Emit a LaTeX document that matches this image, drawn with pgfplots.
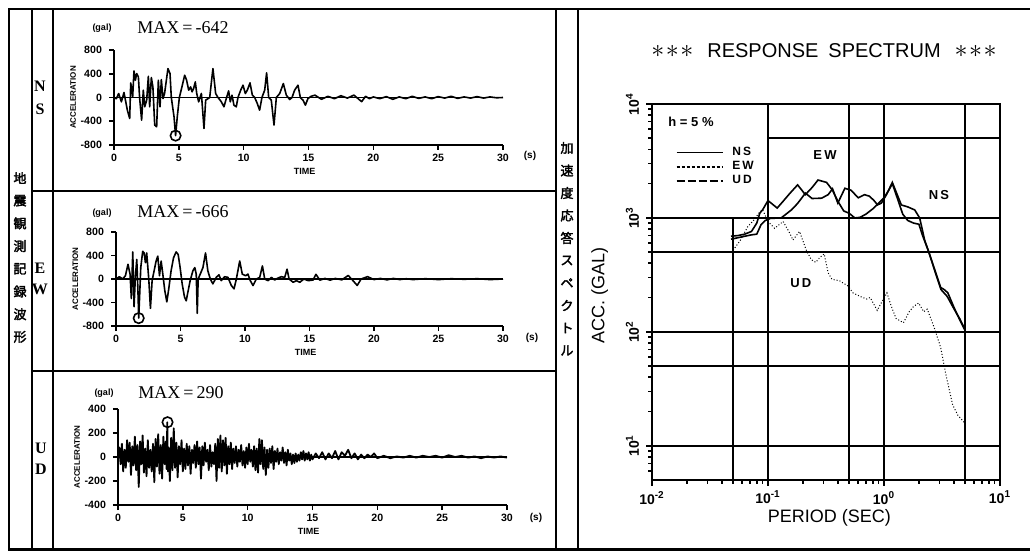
\documentclass[border=0pt]{standalone}
\usepackage{pgfplots}
\pgfplotsset{compat=1.18}
\usepackage{fontspec}
\setmainfont{Liberation Sans}
\newfontfamily\seriff{Liberation Serif}
\newfontfamily\cjk[AutoFakeBold=2.5]{Noto Sans CJK JP}

\pgfplotsset{
  tplot/.style={
    scale only axis, anchor=south west, clip=false,
    axis x line*=bottom, axis y line*=left,
    axis line style={line width=1pt,-},
    tick pos=left,
    xmin=0, xmax=30, xtick={0,5,...,30},
    tick align=outside, major tick length=2.5pt,
    every tick/.style={black, line width=0.8pt},
    tick label style={font=\fontsize{5.3}{6}\selectfont\bfseries},
    xticklabel style={yshift=1.5pt},
    /pgf/number format/assume math mode=true,
    xlabel={TIME},
    xlabel style={font=\fontsize{4.5}{5}\selectfont\bfseries, at={(axis description cs:0.49,0)}, anchor=center, yshift=-13pt},
    ylabel={ACCELERATION},
    ylabel style={font=\fontsize{4}{5}\selectfont\bfseries, at={(axis description cs:-0.105,0.5)}, anchor=center},
  },
  trace/.style={black, no marks, line width=0.8pt, line join=round},
}

\begin{document}
\begin{tikzpicture}[x=0.5pt, y=-0.5pt]
\path[use as bounding box] (0,0) rectangle (1030,551);

% frame
\draw[line width=1.1pt] (8,9) -- (1030,9);
\draw[line width=1.1pt] (8,549.5) -- (1030,549.5);
\draw[line width=1pt] (9,9) -- (9,549.5);
\draw[line width=0.8pt] (32,9) -- (32,549.5);
\draw[line width=0.8pt] (53,9) -- (53,549.5);
\draw[line width=0.8pt] (32,191) -- (556,191);
\draw[line width=0.8pt] (32,371) -- (556,371);
\draw[line width=0.8pt] (556,9) -- (556,549.5);
\draw[line width=0.8pt] (578,9) -- (578,549.5);

% vertical Japanese columns
\foreach \c [count=\i] in {地,震,観,測,記,録,波,形}
  \node[font=\cjk\bfseries\fontsize{6.5}{7}\selectfont, inner sep=0pt] at (20,{178+22.7*(\i-1)}) {\c};
\foreach \c [count=\i] in {加,速,度,応,答,ス,ペ,ク,ト,ル}
  \node[font=\cjk\bfseries\fontsize{6.5}{7}\selectfont, inner sep=0pt] at (567,{148+22.5*(\i-1)}) {\c};

% component letters
\begin{scope}[every node/.style={font=\seriff\bfseries\fontsize{8}{9}\selectfont, inner sep=0pt}]
\node at (40,86) {N}; \node at (40,109) {S};
\node at (40,268) {E}; \node at (40,289) {W};
\node at (41,448) {U}; \node at (41,469) {D};
\end{scope}

% headers
\begin{scope}[every node/.style={inner sep=0pt}]
\node[font=\fontsize{4.5}{5}\selectfont\bfseries] at (102,28) {(gal)};
\node[font=\seriff\fontsize{9}{9}\selectfont, anchor=west] at (137,28) {MAX\,=\,-642};
\node[font=\fontsize{4.5}{5}\selectfont\bfseries] at (102,213) {(gal)};
\node[font=\seriff\fontsize{9}{9}\selectfont, anchor=west] at (137,212) {MAX\,=\,-666};
\node[font=\fontsize{4.5}{5}\selectfont\bfseries] at (104,393) {(gal)};
\node[font=\seriff\fontsize{9}{9}\selectfont, anchor=west] at (138,393) {MAX\,=\,290};
\node[font=\fontsize{5}{6}\selectfont\bfseries] at (530,156) {(s)};
\node[font=\fontsize{5}{6}\selectfont\bfseries] at (532,338) {(s)};
\node[font=\fontsize{5}{6}\selectfont\bfseries] at (536,518) {(s)};
\end{scope}

\coordinate (ns) at (114,145);
\coordinate (ew) at (116,326);
\coordinate (ud) at (118,505);
\coordinate (sp) at (652,480);

% ---------- NS ----------
\begin{axis}[tplot, at={(ns)}, width=194.5pt, height=47.5pt,
  ymin=-800, ymax=800, ytick={-800,-400,0,400,800}]
\addplot[trace, line width=0.6pt] coordinates {(0,0) (30,0)};
\addplot[trace] coordinates {(0,0) (0.18,-20) (0.36,67) (0.57,-73) (0.77,84) (1.03,-213) (1.21,-353) (1.29,246) (1.44,11) (1.54,448) (1.65,291) (1.75,403) (1.88,347) (1.98,-17) (2.13,-381) (2.26,123) (2.37,-157) (2.52,-45) (2.65,358) (2.75,-157) (2.88,336) (3.0,179) (3.14,-465) (3.29,-493) (3.42,291) (3.55,-157) (3.65,302) (3.78,-17) (3.9,67) (4.16,487) (4.32,403) (4.42,0) (4.63,-325) (4.75,-642) (4.88,-325) (5.04,0) (5.24,179) (5.45,375) (5.6,291) (5.76,123) (5.91,179) (6.02,95) (6.14,151) (6.27,263) (6.38,67) (6.53,-73) (6.74,67) (6.94,-521) (7.07,-45) (7.38,0) (7.63,487) (7.84,67) (8.02,0) (8.28,-73) (8.48,-157) (8.66,-17) (8.84,112) (8.97,-73) (9.1,39) (9.25,-129) (9.43,-157) (9.56,0) (9.77,123) (9.95,207) (10.13,67) (10.28,123) (10.49,246) (10.67,39) (10.85,0) (11.05,-101) (11.23,-213) (11.41,0) (11.62,123) (11.77,414) (11.93,0) (12.13,-45) (12.34,-465) (12.52,0) (12.78,67) (13.06,235) (13.29,39) (13.55,-34) (13.73,0) (13.93,123) (14.19,207) (14.37,0) (14.58,-45) (14.76,-129) (14.96,-17) (15.22,22) (15.5,39) (16,-30) (16.5,20) (17,-20) (17.5,30) (18,-10) (18.5,40) (19.1,-70) (19.4,20) (19.7,-20) (20,10) (20.5,-20) (21,15) (21.5,-30) (22,10) (22.5,-20) (23,20) (23.5,-15) (24,10) (24.5,-20) (25,15) (25.5,-10) (26,20) (26.5,-15) (27,10) (27.5,-10) (28,15) (28.5,-10) (29,10) (29.5,-5) (30,0)};
\addplot[only marks, mark=o, mark size=2.6pt, line width=0.8pt, black] coordinates {(4.75,-642)};
\end{axis}

% ---------- EW ----------
\begin{axis}[tplot, at={(ew)}, width=193.5pt, height=47pt,
  ymin=-800, ymax=800, ytick={-800,-400,0,400,800}]
\addplot[trace, line width=0.6pt] coordinates {(0,0) (30,0)};
\addplot[trace] coordinates {(0,0) (0.26,39) (0.52,0) (0.73,56) (0.93,250) (1.09,83) (1.19,-333) (1.3,461) (1.4,-472) (1.5,28) (1.61,333) (1.7,-194) (1.76,-666) (1.83,-300) (1.92,195) (2.07,472) (2.18,444) (2.28,278) (2.38,444) (2.54,0) (2.67,-500) (2.8,-28) (2.98,167) (3.11,306) (3.24,389) (3.37,56) (3.5,306) (3.63,83) (3.78,-194) (3.94,-389) (4.09,-167) (4.27,139) (4.46,361) (4.66,461) (4.82,417) (4.97,195) (5.13,-83) (5.31,-306) (5.44,-372) (5.6,-194) (5.75,-28) (5.96,139) (6.11,195) (6.22,83) (6.3,-583) (6.37,0) (6.53,83) (6.74,195) (6.94,444) (7.12,139) (7.31,0) (7.51,-83) (7.77,28) (7.98,72) (8.16,-28) (8.42,39) (8.68,28) (8.94,-111) (9.15,-167) (9.33,0) (9.59,306) (9.79,83) (10.05,56) (10.23,83) (10.41,-28) (10.62,-111) (10.88,0) (11.14,28) (11.35,222) (11.53,0) (11.79,-28) (12.05,28) (12.3,-17) (12.56,17) (12.82,39) (13.08,28) (13.26,167) (13.42,0) (13.73,-56) (13.99,-28) (14.25,-56) (14.56,0) (14.9,-28) (15.28,-17) (15.5,80) (15.8,-20) (16.2,10) (16.6,-20) (17,10) (17.5,-15) (18,60) (18.3,-10) (18.7,-110) (19,0) (19.5,40) (20,-10) (20.5,10) (21,-15) (21.5,10) (22,-10) (22.5,5) (23,-10) (24,5) (25,-10) (26,5) (27,-5) (28,5) (29,-10) (30,0)};
\addplot[only marks, mark=o, mark size=2.6pt, line width=0.8pt, black] coordinates {(1.76,-666)};
\end{axis}

% ---------- UD ----------
\begin{axis}[tplot, at={(ud)}, width=194.5pt, height=48pt,
  ymin=-400, ymax=400, ytick={-400,-200,0,200,400}]
\addplot[trace, line width=0.6pt] coordinates {(0,0) (30,0)};
\addplot[trace, line width=0.9pt] coordinates {(0,0) (0.1,80) (0.2,-60) (0.3,110) (0.4,-120) (0.5,60) (0.6,-90) (0.7,140) (0.8,-40) (0.9,120) (1.0,-150) (1.1,90) (1.2,-70) (1.3,170) (1.4,-110) (1.5,100) (1.6,-250) (1.7,130) (1.8,-60) (1.9,180) (2.0,-130) (2.1,70) (2.2,-160) (2.3,140) (2.4,-90) (2.5,60) (2.6,-120) (2.7,110) (2.8,-210) (2.9,150) (3.0,-80) (3.1,190) (3.2,-140) (3.3,100) (3.4,-180) (3.5,170) (3.6,-60) (3.7,130) (3.75,-100) (3.8,290) (3.85,-120) (3.9,80) (4.0,-200) (4.1,160) (4.2,-110) (4.3,240) (4.4,-90) (4.5,120) (4.6,-170) (4.7,90) (4.8,-60) (4.9,140) (5.0,-120) (5.1,70) (5.2,-100) (5.3,110) (5.4,-70) (5.5,90) (5.6,-140) (5.7,60) (5.8,-50) (5.9,100) (6.0,-90) (6.1,130) (6.2,-60) (6.3,80) (6.4,-180) (6.5,90) (6.6,-70) (6.7,120) (6.8,-40) (6.9,60) (7.0,-110) (7.1,100) (7.2,-80) (7.3,40) (7.4,-60) (7.5,110) (7.6,-200) (7.7,150) (7.8,-90) (7.9,180) (8.0,-120) (8.1,140) (8.2,-70) (8.3,160) (8.4,-140) (8.5,90) (8.6,-60) (8.7,120) (8.8,-100) (8.9,70) (9.0,-50) (9.1,90) (9.2,-80) (9.3,60) (9.4,-40) (9.5,100) (9.6,-70) (9.7,50) (9.8,-90) (9.9,80) (10.0,-60) (10.1,110) (10.2,-40) (10.3,60) (10.4,-80) (10.5,90) (10.6,-110) (10.7,70) (10.8,-130) (10.9,150) (11.0,-60) (11.1,140) (11.2,-100) (11.3,80) (11.4,-150) (11.5,60) (11.6,-90) (11.7,70) (11.8,-50) (11.9,90) (12.0,-100) (12.1,50) (12.2,-40) (12.3,70) (12.4,-60) (12.5,40) (12.6,-30) (12.7,80) (12.8,-50) (12.9,40) (13.0,-70) (13.1,60) (13.2,-30) (13.3,30) (13.4,-60) (13.5,20) (13.6,-50) (13.7,30) (13.8,-40) (13.9,20) (14.0,-30) (14.1,40) (14.2,-20) (14.3,50) (14.4,-30) (14.5,30) (14.6,-20) (14.7,40) (14.8,-30) (14.9,20) (15.0,-20) (15.25,30) (15.5,-10) (15.75,40) (16,-20) (16.25,30) (16.5,-10) (16.75,50) (17,-20) (17.25,40) (17.5,10) (17.75,60) (18,-10) (18.25,30) (18.5,-20) (18.75,20) (19,-10) (19.25,20) (19.5,0) (19.75,30) (20,-10) (20.5,10) (21,-10) (21.5,5) (22,-5) (22.5,10) (23,-5) (23.5,10) (24,0) (24.5,10) (25,-5) (25.5,15) (26,0) (26.5,10) (27,-5) (27.5,5) (28,-10) (28.5,5) (29,-5) (29.5,5) (30,-5)};
\addplot[only marks, mark=o, mark size=2.6pt, line width=0.8pt, black] coordinates {(3.82,290)};
\end{axis}

% ---------- Response spectrum ----------
\node[font=\fontsize{10}{12}\selectfont, inner sep=0pt] at (824,51) {\scalebox{1.3}{$\ast\!\ast\!\ast$}\hspace{7pt}RESPONSE\hspace{5pt}SPECTRUM\hspace{7pt}\scalebox{1.3}{$\ast\!\ast\!\ast$}};

\begin{axis}[at={(sp)}, anchor=south west, scale only axis, width=174pt, height=188pt,
  xmode=log, ymode=log, xmin=0.01, xmax=10, ymin=5, ymax=10000,
  axis line style={line width=1pt},
  tick pos=left, tick align=outside,
  xtick={0.01,0.1,1,10},
  xticklabels={10\textsuperscript{-2},10\textsuperscript{-1},10\textsuperscript{0},10\textsuperscript{1}},
  ytick={10,100,1000,10000},
  yticklabels={10\textsuperscript{1},10\textsuperscript{2},10\textsuperscript{3},10\textsuperscript{4}},
  minor xtick={0.02,0.03,0.04,0.05,0.06,0.07,0.08,0.09,0.2,0.3,0.4,0.5,0.6,0.7,0.8,0.9,2,3,4,5,6,7,8,9},
  minor ytick={6,7,8,9,20,30,40,50,60,70,80,90,200,300,400,500,600,700,800,900,2000,3000,4000,5000,6000,7000,8000,9000},
  major tick length=3pt, minor tick length=2pt,
  every tick/.style={black, line width=0.8pt},
  tick label style={font=\fontsize{7}{8}\selectfont\bfseries},
  xticklabel style={yshift=1pt},
  yticklabel style={rotate=90, anchor=south},
  xlabel={PERIOD (SEC)}, ylabel={ACC. (GAL)},
  xlabel style={font=\fontsize{9}{10}\selectfont, at={(axis description cs:0.51,-0.101)}, anchor=center},
  ylabel style={font=\fontsize{9}{10}\selectfont, at={(axis description cs:-0.15,0.49)}, anchor=center},
  clip=false,
  legend style={at={(0.05,0.9)}, anchor=north west, draw=none, fill=none,
    font=\fontsize{6}{6.5}\selectfont\bfseries, row sep=0.4pt, column sep=4pt, nodes={inner sep=0.5pt}},
  legend cell align=left,
  legend image code/.code={\draw[#1] (0pt,0pt) -- (23pt,0pt);},
]
\addlegendimage{black, line width=0.8pt}
\addlegendentry{N\,S}
\addlegendimage{black, line width=0.8pt, dash pattern=on 1.5pt off 1pt}
\addlegendentry{E\,W}
\addlegendimage{black, line width=0.8pt, dash pattern=on 4pt off 1.5pt}
\addlegendentry{U\,D}

% grid lines
\begin{scope}[line width=1pt]
\draw (0.1,5000) -- (10,5000);
\draw (0.01,1000) -- (10,1000);
\draw (0.01,500) -- (10,500);
\draw (0.01,100) -- (10,100);
\draw (0.01,50) -- (10,50);
\draw (0.01,10) -- (10,10);
\draw (0.05,5) -- (0.05,1000);
\draw (0.1,5) -- (0.1,10000);
\draw (0.5,5) -- (0.5,10000);
\draw (1,5) -- (1,10000);
\draw (5,5) -- (5,10000);
\end{scope}

% EW
\addplot[black, no marks, line width=0.8pt] coordinates {(0.048,690) (0.055,700) (0.063,720) (0.072,760) (0.08,900) (0.085,1100) (0.09,1180) (0.1,1420) (0.12,1220) (0.135,1400) (0.155,1650) (0.18,1950) (0.21,1600) (0.24,1850) (0.27,2150) (0.32,2050) (0.36,1750) (0.4,1400) (0.45,1150) (0.5,1100) (0.56,1000) (0.62,1010) (0.7,1080) (0.8,1200) (0.9,1350) (1.0,1500) (1.1,1750) (1.18,2000) (1.3,1500) (1.45,1080) (1.6,950) (1.8,900) (2.0,880) (2.15,700) (2.44,500) (2.8,320) (3.1,235) (3.5,205) (4.0,160) (4.5,130) (4.95,107)};
% NS
\addplot[black, no marks, line width=0.8pt] coordinates {(0.048,650) (0.055,670) (0.063,690) (0.072,710) (0.08,720) (0.087,870) (0.095,950) (0.105,990) (0.13,1000) (0.16,1180) (0.18,1340) (0.21,1650) (0.24,1480) (0.29,1490) (0.33,1600) (0.36,1800) (0.4,1350) (0.46,1820) (0.52,1750) (0.6,1500) (0.68,1600) (0.75,1550) (0.82,1420) (0.88,1300) (0.95,1350) (1.05,1600) (1.18,2050) (1.3,1600) (1.41,1300) (1.6,1250) (1.84,1175) (2.03,1000) (2.24,640) (2.5,460) (2.74,350) (3.08,245) (3.3,235) (3.55,220) (4.0,165) (4.3,140) (4.95,105)};
% UD
\addplot[black, no marks, line width=0.5pt, densely dotted] coordinates {(0.05,520) (0.058,640) (0.067,840) (0.075,950) (0.085,1130) (0.09,1180) (0.1,930) (0.114,810) (0.135,930) (0.154,735) (0.164,640) (0.187,760) (0.214,520) (0.236,430) (0.258,407) (0.28,450) (0.305,483) (0.33,330) (0.356,289) (0.413,281) (0.488,253) (0.54,220) (0.62,205) (0.706,194) (0.76,200) (0.874,154) (0.95,180) (1.06,220) (1.15,170) (1.27,131) (1.47,120) (1.65,150) (1.8,167) (1.99,179) (2.2,150) (2.36,158) (2.7,110) (3.08,73) (3.41,42.5) (3.9,23) (4.32,18.6) (5.0,15.7)};

\node[font=\fontsize{6.5}{7}\selectfont\bfseries, anchor=west, inner sep=0pt] at (rel axis cs:0.046,0.952) {h = 5 \%};
\node[font=\fontsize{6.5}{7}\selectfont\bfseries, inner sep=0pt] at (0.31,3570) {E\,W};
\node[font=\fontsize{6.5}{7}\selectfont\bfseries, inner sep=0pt] at (2.98,1590) {N\,S};
\node[font=\fontsize{6.5}{7}\selectfont\bfseries, inner sep=0pt] at (0.192,269) {U\,D};
\end{axis}
\end{tikzpicture}
\end{document}
